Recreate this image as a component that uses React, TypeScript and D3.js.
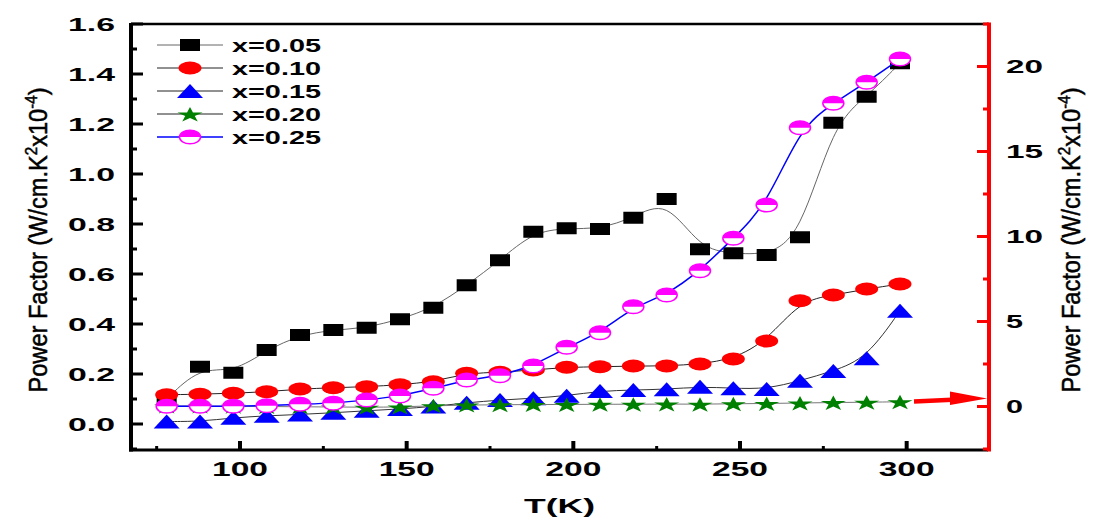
import React from "react";
import * as d3 from "d3";

const temps = [78, 88, 98, 108, 118, 128, 138, 148, 158, 168, 178, 188, 198, 208, 218, 228, 238, 248, 258, 268, 278, 288, 298];
const pf005 = [0.10, 0.229, 0.205, 0.296, 0.356, 0.376, 0.385, 0.419, 0.465, 0.555, 0.655, 0.769, 0.783, 0.78, 0.825, 0.90, 0.699, 0.683, 0.676, 0.747, 1.205, 1.309, 1.443];
const pf010 = [0.117, 0.119, 0.123, 0.129, 0.14, 0.145, 0.149, 0.157, 0.169, 0.203, 0.207, 0.216, 0.227, 0.229, 0.232, 0.232, 0.24, 0.26, 0.332, 0.493, 0.516, 0.54, 0.56];
const pf015 = [0.01, 0.01, 0.025, 0.033, 0.038, 0.045, 0.053, 0.06, 0.07, 0.085, 0.096, 0.103, 0.113, 0.132, 0.136, 0.139, 0.149, 0.143, 0.14, 0.173, 0.212, 0.263, 0.453];
const pf020 = [0.072, 0.072, 0.071, 0.070, 0.069, 0.068, 0.067, 0.068, 0.073, 0.076, 0.077, 0.078, 0.078, 0.079, 0.079, 0.08, 0.079, 0.081, 0.082, 0.084, 0.086, 0.087, 0.089];
const pf025 = [0.071, 0.071, 0.071, 0.073, 0.079, 0.083, 0.096, 0.112, 0.143, 0.176, 0.193, 0.232, 0.307, 0.365, 0.469, 0.516, 0.613, 0.743, 0.876, 1.185, 1.283, 1.367, 1.46];

const seriesNames = ["x=0.05", "x=0.10", "x=0.15", "x=0.20", "x=0.25"];
const leftTicks = [0, 0.2, 0.4, 0.6, 0.8, 1.0, 1.2, 1.4, 1.6];
const leftMinor = [-0.1, 0.1, 0.3, 0.5, 0.7, 0.9, 1.1, 1.3, 1.5];
const rightTicks = [0, 5, 10, 15, 20];
const rightMinor = [-2.5, 2.5, 7.5, 12.5, 17.5, 22.5];
const xTicks = [100, 150, 200, 250, 300];
const xMinor = [75, 125, 175, 225, 275];

const FONT = "'Liberation Sans', Arial, sans-serif";

type Marker = "square" | "circle" | "triangle" | "star" | "half";

function MarkerShape({ m, cx, cy }: { m: Marker; cx: number; cy: number }) {
  if (m === "square") return <rect x={cx - 10} y={cy - 6} width={20} height={12} fill="#000" />;
  if (m === "circle") return <ellipse cx={cx} cy={cy} rx={11.5} ry={6.5} fill="#ff0000" />;
  if (m === "triangle")
    return <path d={`M${cx - 13},${cy + 7}L${cx + 13},${cy + 7}L${cx},${cy - 7}Z`} fill="#0000ff" />;
  if (m === "star") {
    const p = d3.symbol().type(d3.symbolStar).size(72)() as string;
    return <path d={p} transform={`translate(${cx},${cy + 1}) scale(1.65,1)`} fill="#008000" />;
  }
  const rx = 10.5, ry = 6.8;
  return (
    <g>
      <ellipse cx={cx} cy={cy} rx={rx} ry={ry} fill="#fff" stroke="#ff00ff" strokeWidth={1.5} />
      <path d={`M${cx - rx},${cy} A${rx},${ry} 0 0 1 ${cx + rx},${cy} Z`} fill="#ff00ff" />
    </g>
  );
}

function AxisTitle({ tx }: { tx: number }) {
  return (
    <text transform={`translate(${tx},240) rotate(-90)`} textAnchor="middle" fontSize={25} stroke="#000" strokeWidth={0.5} textLength={305} lengthAdjust="spacingAndGlyphs">
      Power Factor (W/cm.K<tspan dy={-10} fontSize={16}>2</tspan><tspan dy={10}>x10</tspan><tspan dy={-10} fontSize={16}>-4</tspan><tspan dy={10}>)</tspan>
    </text>
  );
}

export default function App() {
  const x = d3.scaleLinear().domain([67.3, 324.4]).range([131, 988]);
  const yL = d3.scaleLinear().domain([-0.1, 1.6]).range([449, 24]);
  const yR = d3.scaleLinear().domain([-2.5, 22.5]).range([449, 24]);

  const series = [
    { name: seriesNames[0], data: pf005, line: "#666", lw: 1, m: "square" as Marker },
    { name: seriesNames[1], data: pf010, line: "#222", lw: 1, m: "circle" as Marker },
    { name: seriesNames[2], data: pf015, line: "#333", lw: 1, m: "triangle" as Marker },
    { name: seriesNames[3], data: pf020, line: "#777", lw: 1, m: "star" as Marker },
    { name: seriesNames[4], data: pf025, line: "#0000ff", lw: 1.5, m: "half" as Marker },
  ];

  const lineGen = d3
    .line<[number, number]>()
    .x((d) => x(d[0]))
    .y((d) => yL(d[1]))
    .curve(d3.curveBasis);

  const x0 = x.range()[0], x1 = x.range()[1];
  const yTop = yL.range()[1], yBot = yL.range()[0] + 1;

  const arrowY0 = yL(0.09);
  const arrowY1 = yL(0.1);
  const arrowX0 = x(302.2);
  const headBase = x1 - 38;

  return (
    <svg width={1094} height={518} style={{ position: "absolute", left: 0, top: 0, background: "#fff" }} fontFamily={FONT}>
      <rect width={1094} height={518} fill="#fff" />
      {series.map((s, i) => (
        <g key={i}>
          <path d={lineGen(temps.map((t, j) => [t, s.data[j]] as [number, number])) as string} fill="none" stroke={s.line} strokeWidth={s.lw} />
          {temps.map((t, j) => (
            <MarkerShape key={j} m={s.m} cx={x(t)} cy={yL(s.data[j])} />
          ))}
        </g>
      ))}

      <line x1={x0} x2={x1} y1={yTop} y2={yTop} stroke="#000" strokeWidth={2.5} />
      <line x1={x0 - 2} x2={x1} y1={yBot} y2={yBot} stroke="#000" strokeWidth={3} />
      <line x1={x0} x2={x0} y1={yTop - 1} y2={yBot + 1.5} stroke="#000" strokeWidth={4} />

      {leftTicks.map((v, i) => (
        <g key={i}>
          <line x1={x0} x2={x0 + 12} y1={yL(v)} y2={yL(v)} stroke="#000" strokeWidth={3} />
          <text x={115} y={yL(v) + 6.7} textAnchor="end" fontSize={18.6} fontWeight="bold" textLength={47} lengthAdjust="spacingAndGlyphs">
            {v.toFixed(1)}
          </text>
        </g>
      ))}
      {leftMinor.map((v, i) => (
        <line key={i} x1={x0} x2={x0 + 6} y1={yL(v)} y2={yL(v)} stroke="#000" strokeWidth={3} />
      ))}

      {xTicks.map((v, i) => (
        <g key={i}>
          <line x1={x(v)} x2={x(v)} y1={yBot} y2={yBot - 9} stroke="#000" strokeWidth={4} />
          <text x={x(v)} y={476} textAnchor="middle" fontSize={20} fontWeight="bold" textLength={56} lengthAdjust="spacingAndGlyphs">
            {v}
          </text>
        </g>
      ))}
      {xMinor.map((v, i) => (
        <line key={i} x1={x(v)} x2={x(v)} y1={yBot} y2={yBot - 4} stroke="#000" strokeWidth={3} />
      ))}

      <line x1={x1 + 1} x2={x1 + 1} y1={yTop - 1.5} y2={yBot + 1.5} stroke="#ff0000" strokeWidth={4} />
      {rightTicks.map((v, i) => (
        <g key={i}>
          <line x1={x1 + 1} x2={x1 - 11} y1={yR(v)} y2={yR(v)} stroke="#ff0000" strokeWidth={3} />
          <text x={1006} y={yR(v) + 6.7} textAnchor="start" fontSize={18.6} fontWeight="bold" textLength={String(v).length > 1 ? 37 : 17} lengthAdjust="spacingAndGlyphs">
            {v}
          </text>
        </g>
      ))}
      {rightMinor.map((v, i) => (
        <line key={i} x1={x1 + 1} x2={x1 - 5} y1={yR(v)} y2={yR(v)} stroke="#ff0000" strokeWidth={3} />
      ))}

      <line x1={arrowX0} y1={arrowY0} x2={headBase + 2} y2={(arrowY0 + arrowY1) / 2 - 0.5} stroke="#ff0000" strokeWidth={4.5} />
      <path d={`M${headBase},${arrowY1 - 7.5} L${x1 - 1},${arrowY1 - 0.5} L${headBase},${arrowY1 + 6} Z`} fill="#ff0000" />

      {series.map((s, i) => {
        const ly = 45 + i * 23;
        return (
          <g key={i}>
            <line x1={157} x2={223} y1={ly} y2={ly} stroke={s.m === "half" ? "#0000ff" : s.m === "square" ? "#666" : "#222"} strokeWidth={s.m === "half" ? 1.5 : 1} />
            <MarkerShape m={s.m} cx={190} cy={ly} />
            <text x={232} y={ly + 6.5} fontSize={18} fontWeight="bold" textLength={89} lengthAdjust="spacingAndGlyphs">
              {s.name}
            </text>
          </g>
        );
      })}

      <text x={559.5} y={513} textAnchor="middle" fontSize={21} fontWeight="bold" textLength={71} lengthAdjust="spacingAndGlyphs">
        T(K)
      </text>
      <AxisTitle tx={47} />
      <AxisTitle tx={1080} />
    </svg>
  );
}
